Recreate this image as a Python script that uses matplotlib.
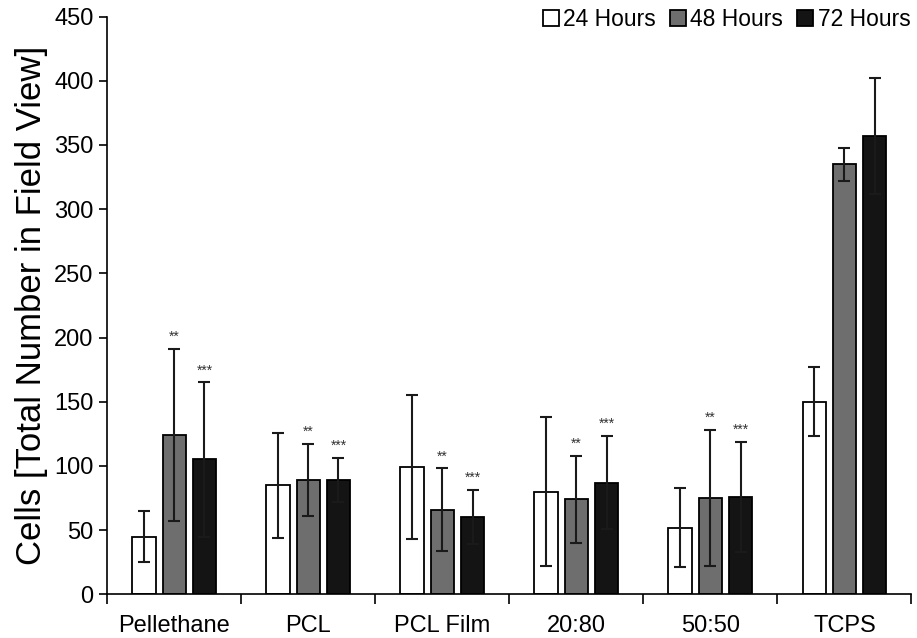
import matplotlib.pyplot as plt
import numpy as np

plt.rcParams['font.family'] = ['Liberation Sans', 'DejaVu Sans']

categories = ['Pellethane', 'PCL', 'PCL Film', '20:80', '50:50', 'TCPS']
series_names = ['24 Hours', '48 Hours', '72 Hours']

means_24 = [45, 85, 99, 80, 52, 150]
means_48 = [124, 89, 66, 74, 75, 335]
means_72 = [105, 89, 60, 87, 76, 357]

err_24 = [20, 41, 56, 58, 31, 27]
err_48 = [67, 28, 32, 34, 53, 13]
err_72 = [60, 17, 21, 36, 43, 45]

# significance markers above the 48h and 72h bars
stars_48 = ['**', '**', '**', '**', '**', '']
stars_72 = ['***', '***', '***', '***', '***', '']

colors = ['#ffffff', '#6e6e6e', '#141414']

fig = plt.figure(figsize=(9.17, 6.38), dpi=100)
ax = fig.add_axes([0.117, 0.0685, 0.877, 0.9055])

x = np.arange(len(categories))
step = 0.225
width = 0.176

all_means = [means_24, means_48, means_72]
all_errs = [err_24, err_48, err_72]

for i in range(3):
    ax.bar(x + (i - 1) * step, all_means[i], width, color=colors[i],
           edgecolor='black', linewidth=1.3, label=series_names[i], zorder=2)
    ax.errorbar(x + (i - 1) * step, all_means[i], yerr=all_errs[i], fmt='none',
                ecolor='#1a1a1a', elinewidth=1.5, capsize=4, capthick=1.5, zorder=3)

for j in range(len(categories)):
    top48 = means_48[j] + err_48[j]
    top72 = means_72[j] + err_72[j]
    ax.text(x[j], top48 + 4, stars_48[j], ha='center', va='bottom',
            fontsize=10, color='#333333')
    ax.text(x[j] + step, top72 + 4, stars_72[j], ha='center', va='bottom',
            fontsize=10, color='#333333')

ax.set_xlim(-0.5, len(categories) - 0.5)
ax.set_ylim(0, 450)
ax.set_yticks(np.arange(0, 451, 50))
ax.tick_params(axis='y', labelsize=17, length=6, width=1.2, direction='out', pad=4)

ax.set_xticks(x)
ax.set_xticklabels(categories, fontsize=17)
ax.set_xticks(np.arange(len(categories) + 1) - 0.5, minor=True)
ax.tick_params(axis='x', which='major', length=0, pad=15)
ax.tick_params(axis='x', which='minor', length=7, width=1.2, direction='out')

ax.spines['top'].set_visible(False)
ax.spines['right'].set_visible(False)
ax.spines['left'].set_linewidth(1.2)
ax.spines['bottom'].set_linewidth(1.2)

ax.set_ylabel('Cells [Total Number in Field View]', fontsize=25, labelpad=4)

ax.legend(loc='upper right', ncol=3, frameon=False, fontsize=16.5,
          handlelength=0.7, handleheight=0.7, handletextpad=0.2,
          columnspacing=0.6, borderaxespad=0.0, bbox_to_anchor=(1.01, 1.03))

fig.savefig('out.png', dpi=100)
